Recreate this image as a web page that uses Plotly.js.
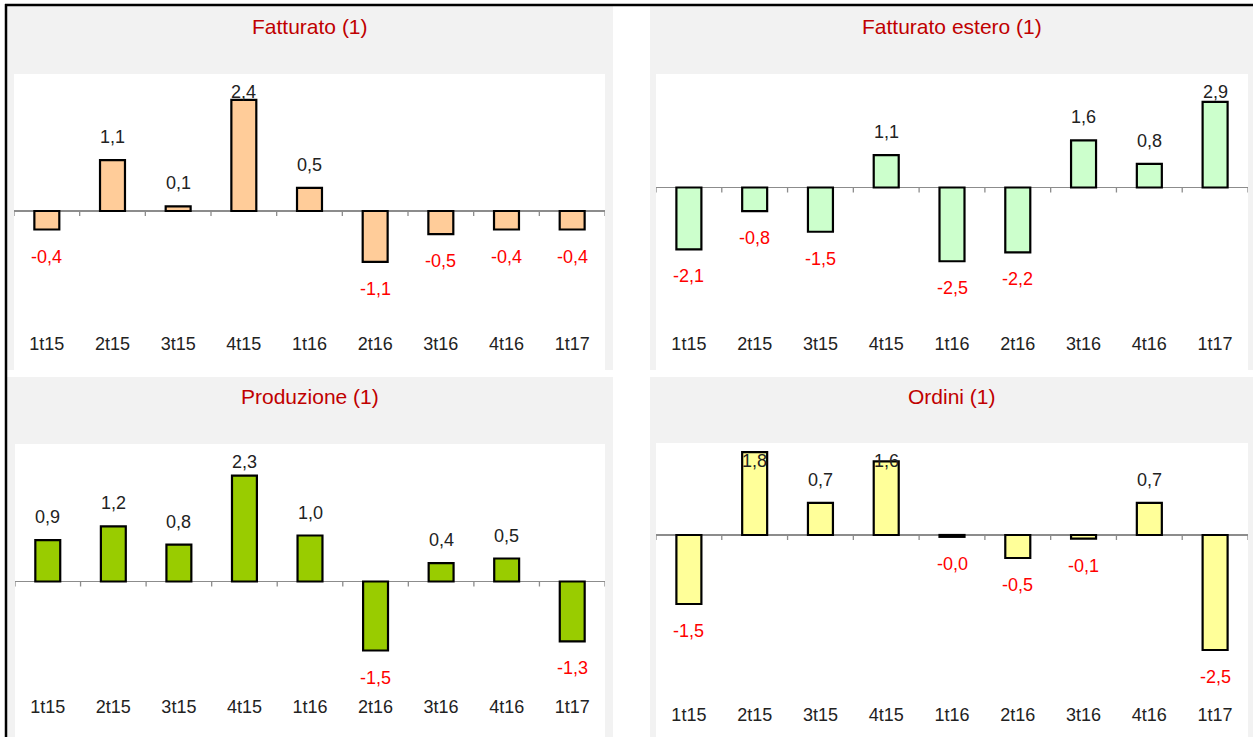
<!DOCTYPE html>
<html>
<head>
<meta charset="utf-8">
<script src="https://cdn.plot.ly/plotly-3.0.1.min.js"></script>
<style>
html,body{margin:0;padding:0;background:#fff;}
#chart{width:1253px;height:737px;}
</style>
</head>
<body>
<div id="chart"></div>
<script>
// ---- data ----
const categories = ['1t15','2t15','3t15','4t15','1t16','2t16','3t16','4t16','1t17'];
const fatturato = [-0.4, 1.1, 0.1, 2.4, 0.5, -1.1, -0.5, -0.4, -0.4];
const fatturatoEstero = [-2.1, -0.8, -1.5, 1.1, -2.5, -2.2, 1.6, 0.8, 2.9];
const produzione = [0.9, 1.2, 0.8, 2.3, 1.0, -1.5, 0.4, 0.5, -1.3];
const ordini = [-1.5, 1.8, 0.7, 1.6, -0.04, -0.5, -0.08, 0.7, -2.5];
const titles = ['Fatturato (1)', 'Fatturato estero (1)', 'Produzione (1)', 'Ordini (1)'];
const seriesList = [fatturato, fatturatoEstero, produzione, ordini];
const barColors = ['#ffcc99', '#ccffcc', '#99cc00', '#ffff99'];

// ---- layout geometry (pixels) ----
const W = 1253, H = 737;
const geoms = [
  {gx0:7,   gx1:613,  gy0:6,   gy1:370, px0:14,  px1:605,  py0:74,  py1:370, zero:211,   scale:46.3, labelY:343, titleY:27},
  {gx0:650, gx1:1253, gy0:6,   gy1:370, px0:656, px1:1248, py0:74,  py1:370, zero:187.5, scale:29.5, labelY:343, titleY:27},
  {gx0:7,   gx1:613,  gy0:377, gy1:737, px0:15,  px1:605,  py0:444, py1:737, zero:581.5, scale:46,   labelY:706, titleY:396},
  {gx0:650, gx1:1253, gy0:377, gy1:737, px0:656, px1:1248, py0:443, py1:737, zero:535,   scale:46,   labelY:714, titleY:396}
];
const fx = p => p / W;
const fy = p => 1 - p / H;
const FONT = '"Liberation Sans", Arial, sans-serif';

function fmt(v) {
  const s = (Math.round(Math.abs(v) * 10) / 10).toFixed(1).replace('.', ',');
  return (v < 0 ? '-' : '') + s;
}

const traces = [];
const shapes = [];
const annotations = [];
const layout = {
  width: W, height: H,
  margin: {l: 0, r: 0, t: 0, b: 0},
  paper_bgcolor: '#ffffff',
  plot_bgcolor: 'rgba(0,0,0,0)',
  showlegend: false,
  bargap: 0,
  font: {family: FONT}
};

geoms.forEach((g, i) => {
  const n = i + 1;
  const xa = n === 1 ? 'x' : 'x' + n;
  const ya = n === 1 ? 'y' : 'y' + n;
  const ymax = (g.zero - g.py0) / g.scale;
  const ymin = -(g.py1 - g.zero) / g.scale;
  const vals = seriesList[i];

  // panel backgrounds
  shapes.push({type: 'rect', xref: 'paper', yref: 'paper', layer: 'below',
    x0: fx(g.gx0), x1: fx(g.gx1), y0: fy(g.gy1), y1: fy(g.gy0),
    fillcolor: '#f2f2f2', line: {width: 0}});
  shapes.push({type: 'rect', xref: 'paper', yref: 'paper', layer: 'below',
    x0: fx(g.px0), x1: fx(g.px1), y0: fy(g.py1), y1: fy(g.py0),
    fillcolor: '#ffffff', line: {width: 0}});

  traces.push({
    type: 'bar', x: categories, y: vals, xaxis: xa, yaxis: ya,
    width: 0.38,
    marker: {color: barColors[i], line: {color: '#000000', width: 2.2}},
    hoverinfo: 'x+y'
  });

  layout['xaxis' + (n === 1 ? '' : n)] = {
    domain: [fx(g.px0), fx(g.px1)],
    anchor: 'free',
    position: fy(g.labelY - 12),
    type: 'category',
    range: [-0.5, categories.length - 0.5],
    showgrid: false, zeroline: false, showline: false, ticks: '',
    tickfont: {family: FONT, size: 18, color: '#222222'},
    fixedrange: true
  };
  layout['yaxis' + (n === 1 ? '' : n)] = {
    domain: [fy(g.py1), fy(g.py0)],
    anchor: xa,
    range: [ymin, ymax],
    showgrid: false, showticklabels: false, ticks: '', showline: false,
    zeroline: true, zerolinecolor: '#8c8c8c', zerolinewidth: 1.3,
    fixedrange: true
  };

  // tick marks on the zero line at category boundaries
  const tickLen = 5 / g.scale;
  for (let k = 0; k <= categories.length; k++) {
    shapes.push({type: 'line', xref: xa, yref: ya, layer: 'below',
      x0: k - 0.5, x1: k - 0.5, y0: 0, y1: -tickLen,
      line: {color: '#8c8c8c', width: 1.3}});
  }

  // value labels
  const topLimit = ymax - 18 / g.scale;
  vals.forEach((v, k) => {
    let y = v, shift;
    if (v >= 0) {
      shift = 23;
      if (v + 23 / g.scale > topLimit) { y = topLimit; shift = 0; }
    } else {
      shift = -27;
    }
    annotations.push({
      xref: xa, yref: ya, x: categories[k], y: y, yshift: shift,
      text: fmt(v), showarrow: false, xanchor: 'center', yanchor: 'middle',
      font: {family: FONT, size: 18, color: v < 0 ? '#ff0000' : '#222222'}
    });
  });

  // panel title
  annotations.push({
    xref: 'paper', yref: 'paper', x: fx((g.gx0 + g.gx1) / 2), y: fy(g.titleY),
    text: titles[i], showarrow: false, xanchor: 'center', yanchor: 'middle',
    font: {family: FONT, size: 21, color: '#c00000'}
  });
});

// outer frame lines (top and left)
shapes.push({type: 'line', xref: 'paper', yref: 'paper', x0: fx(5), x1: 1, y0: fy(5), y1: fy(5),
  line: {color: '#000000', width: 2.5}});
shapes.push({type: 'line', xref: 'paper', yref: 'paper', x0: fx(6), x1: fx(6), y0: fy(4), y1: 0,
  line: {color: '#000000', width: 2.5}});

layout.shapes = shapes;
layout.annotations = annotations;

Plotly.newPlot('chart', traces, layout, {displayModeBar: false, staticPlot: true});
</script>
</body>
</html>
